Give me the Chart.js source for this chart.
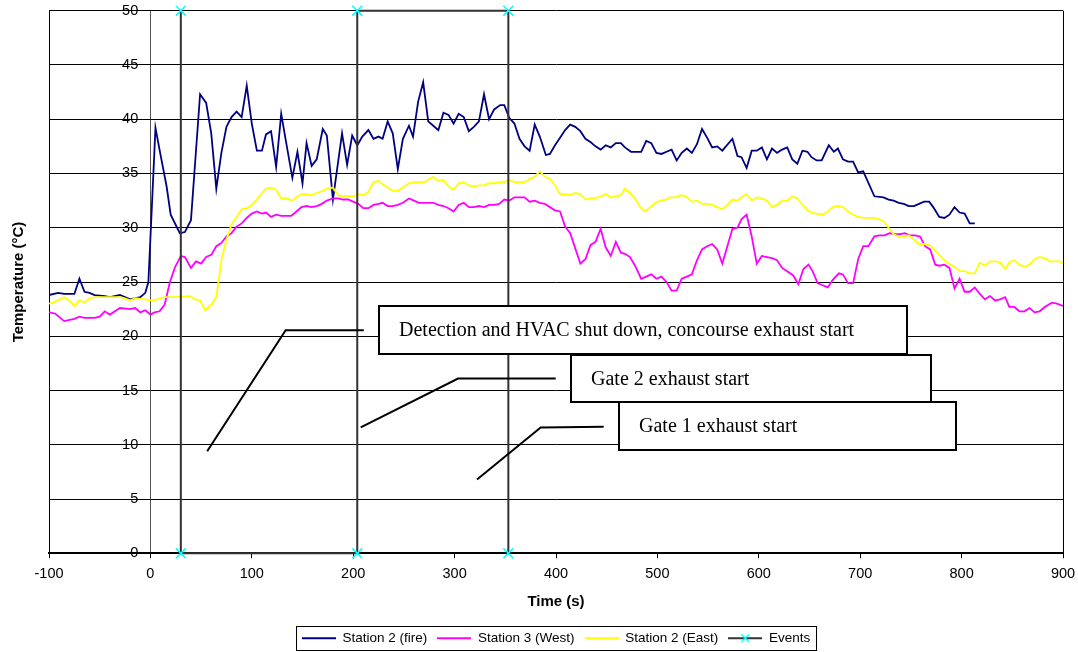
<!DOCTYPE html>
<html>
<head>
<meta charset="utf-8">
<title>Station temperatures</title>
<script src="https://cdn.jsdelivr.net/npm/chart.js@4.4.1/dist/chart.umd.min.js"></script>
<style>
  html, body { margin: 0; padding: 0; background: #fff; }
  canvas { display: block; }
</style>
</head>
<body>
<canvas id="tempChart" width="1078" height="652"></canvas>
<script>
// time (s) and temperature (degC) for each station
var fireTime = [-100,-91,-85,-75,-70,-65,-60,-55,-45,-40,
  -30,-20,-10,-5,-2,0,5,9,16,20,
  29,34,40,49,55,60,65,70,75,80,
  85,90,95,100,105,110,114,119,124,129,
  134,140,145,150,154,159,164,170,174,180,
  189,194,199,204,209,215,220,225,229,234,
  239,244,249,255,259,264,269,274,279,284,
  289,294,299,304,309,314,319,324,329,334,
  339,345,349,354,359,364,369,374,379,384,
  390,394,399,404,409,414,419,424,429,434,
  439,444,449,454,459,464,468,474,484,489,
  494,499,504,509,514,519,524,529,534,539,
  544,549,554,559,564,574,579,583,588,593,
  598,603,608,613,618,623,628,633,638,643,
  648,652,657,662,669,674,678,683,688,693,
  698,703,714,723,728,733,738,743,748,753,
  758,763,768,772,778,783,788,793,798,803,
  808,813];
var fireTemp = [23.8,24.0,23.9,23.9,25.3,24.1,24.0,23.8,23.7,23.6,
  23.8,23.4,23.6,24.0,25.0,29.0,39.2,37.2,33.8,31.2,
  29.5,29.6,30.7,42.3,41.5,38.7,33.6,36.9,39.3,40.2,
  40.7,40.2,43.1,39.6,37.1,37.1,38.6,38.9,35.6,40.5,
  37.8,34.6,37.0,34.1,37.8,35.7,36.3,39.1,38.5,32.6,
  38.7,35.8,38.5,37.6,38.4,39.0,38.2,38.4,38.2,39.8,
  38.7,35.4,38.2,39.4,38.4,41.6,43.4,39.8,39.4,39.0,
  40.6,40.4,39.6,40.5,40.2,38.9,39.3,39.8,42.3,40.0,
  40.9,41.3,41.3,40.1,39.6,38.2,37.5,37.1,39.5,38.4,
  36.7,36.8,37.6,38.3,39.0,39.5,39.3,38.9,38.2,37.9,
  37.5,37.2,37.6,37.4,37.8,37.8,37.4,37.0,37.0,38.0,
  37.8,36.9,36.8,37.0,37.2,36.2,36.9,37.3,36.9,37.7,
  39.1,38.3,37.4,37.5,37.1,38.2,36.6,36.5,35.5,37.1,
  37.1,37.4,36.3,37.3,36.9,37.2,37.4,36.3,35.9,37.1,
  37.0,36.5,36.2,36.2,37.6,37.0,37.3,36.3,36.1,36.1,
  35.1,35.2,32.9,32.8,32.6,32.5,32.3,32.2,32.0,32.0,
  32.2,32.4,32.4,31.9,31.0,30.9,31.2,31.9,31.4,31.3,
  30.4,30.4];

var westTime = [-100,-94,-85,-75,-70,-65,-55,-50,-45,-40,
  -30,-20,-15,-10,-5,0,4,9,14,19,
  24,30,34,40,45,50,55,60,65,70,
  75,80,85,90,95,100,105,110,114,119,
  124,129,139,144,149,154,159,164,169,174,
  180,185,190,195,200,205,210,215,220,225,
  229,234,239,244,249,255,260,265,270,275,
  279,284,289,294,299,304,309,314,319,324,
  329,334,339,344,349,354,359,364,369,374,
  379,384,389,394,399,404,409,414,419,424,
  429,434,439,444,449,454,459,464,468,473,
  478,484,489,494,499,504,509,514,519,524,
  529,534,539,544,549,554,559,564,569,574,
  579,583,588,593,598,603,608,613,618,623,
  628,634,639,644,649,653,658,663,668,673,
  679,683,688,693,698,703,708,714,719,724,
  729,734,739,744,749,754,759,764,769,774,
  778,783,788,793,798,803,808,813,818,823,
  828,833,838,843,847,852,857,862,867,872,
  877,882,889,894,900];
var westTemp = [22.2,22.1,21.4,21.6,21.8,21.7,21.7,21.8,22.3,22.0,
  22.6,22.5,22.6,22.2,22.4,22.0,22.2,22.3,22.9,24.9,
  26.3,27.4,27.3,26.3,26.9,26.7,27.3,27.5,28.3,28.6,
  29.2,29.5,30.1,30.4,30.9,31.3,31.5,31.3,31.4,31.0,
  31.2,31.1,31.1,31.5,31.9,32.0,31.9,32.0,32.2,32.5,
  32.7,32.7,32.6,32.6,32.4,32.2,31.8,31.8,32.1,32.2,
  32.3,32.0,32.0,32.1,32.3,32.7,32.5,32.3,32.3,32.3,
  32.3,32.1,32.0,31.8,31.5,32.1,32.3,31.9,31.9,32.0,
  31.9,32.1,32.1,32.2,32.6,32.5,32.8,32.8,32.8,32.4,
  32.5,32.3,32.2,31.9,31.6,31.5,30.1,29.5,28.1,26.7,
  27.1,28.4,28.7,29.9,28.2,27.4,28.7,27.7,27.6,27.3,
  26.5,25.3,25.5,25.7,25.3,25.5,25.0,24.2,24.2,25.3,
  25.5,25.7,27.0,28.0,28.3,28.5,28.0,26.7,28.3,29.9,
  30.0,30.8,31.2,29.2,26.7,27.4,27.3,27.2,27.0,26.3,
  26.0,25.6,24.8,26.2,26.6,26.0,24.9,24.7,24.5,25.2,
  25.8,25.7,24.9,24.9,27.1,28.3,28.3,29.2,29.3,29.3,
  29.5,29.4,29.4,29.5,29.3,29.3,29.2,28.3,28.0,26.6,
  26.5,26.6,26.3,24.4,25.3,24.1,24.1,24.5,23.9,23.4,
  23.7,23.3,23.4,23.6,22.7,22.7,22.3,22.3,22.6,22.2,
  22.3,22.7,23.1,23.0,22.8];

var eastTime = [-100,-96,-89,-85,-80,-75,-70,-65,-60,-55,
  -45,-40,-35,-30,-25,-20,-15,-5,0,4,
  9,14,24,39,44,49,54,60,65,70,
  75,80,85,90,95,100,105,110,114,119,
  124,129,134,140,145,150,154,159,164,170,
  174,180,185,190,195,200,205,210,215,220,
  225,229,234,239,244,249,255,260,265,270,
  275,279,284,289,294,299,304,309,314,319,
  324,329,334,339,344,349,354,359,364,369,
  374,379,384,389,394,399,404,409,414,419,
  424,429,434,439,444,449,454,459,464,468,
  473,478,483,488,493,498,503,508,513,518,
  523,528,534,539,544,549,554,559,564,569,
  574,579,583,588,593,598,603,608,613,618,
  623,628,633,638,643,648,652,657,663,668,
  673,678,683,688,693,698,703,708,713,718,
  723,728,733,738,743,748,753,758,763,768,
  772,777,782,787,793,798,803,808,813,818,
  823,828,833,838,843,847,852,857,862,867,
  872,877,882,887,892,897,900];
var eastTemp = [23.0,23.1,23.4,23.6,23.3,22.8,23.3,23.1,23.5,23.6,
  23.6,23.6,23.6,23.6,23.5,23.3,23.5,23.4,23.3,23.3,
  23.5,23.6,23.6,23.7,23.4,23.3,22.4,22.9,23.6,27.0,
  28.9,30.3,31.0,31.7,31.8,32.1,32.6,33.2,33.6,33.7,
  33.5,32.7,32.7,32.5,32.9,33.1,33.1,33.0,33.2,33.4,
  33.6,33.7,33.0,32.9,32.9,32.9,33.1,33.0,33.3,34.2,
  34.3,34.0,33.7,33.4,33.4,33.7,34.1,34.2,34.2,34.2,
  34.5,34.7,34.3,34.4,33.8,33.5,34.1,34.2,33.9,33.8,
  33.9,33.9,34.1,34.1,34.2,34.2,34.4,34.2,34.2,34.2,
  34.5,34.7,35.2,34.7,34.5,33.9,33.1,33.1,33.0,33.2,
  33.1,32.6,32.7,32.7,32.9,33.1,32.8,32.9,33.0,33.6,
  33.2,32.7,31.9,31.5,31.9,32.3,32.5,32.6,32.8,32.8,
  33.0,32.9,32.4,32.5,32.2,32.2,32.1,31.9,31.7,32.1,
  32.6,32.5,32.8,33.1,32.5,32.8,32.7,32.5,31.9,32.1,
  32.5,32.5,32.9,32.7,32.1,31.6,31.4,31.3,31.2,31.5,
  31.9,32.0,31.9,31.5,31.2,31.0,30.9,30.9,30.9,30.8,
  30.6,30.0,29.4,29.2,29.2,29.3,28.9,28.5,28.5,28.4,
  28.1,27.6,27.1,26.7,26.4,26.0,26.0,25.8,25.8,26.8,
  26.5,26.9,26.9,26.8,26.2,26.8,27.0,26.6,26.4,26.6,
  27.1,27.3,27.2,26.9,26.9,26.9,26.7];

// event markers: drawn as a stepped line between the axis limits
var eventTime = [30, 30, 204, 204, 353, 353];
var eventLevel = [50, 0, 0, 50, 50, 0];

var seriesNames = ['Station 2 (fire)', 'Station 3 (West)', 'Station 2 (East)', 'Events'];
var tempTicks = { min: 0, max: 50, step: 5 };
var timeTicks = { min: -100, max: 900, step: 100 };

// callout boxes, in axis units
var notes = [
  { text: 'Detection and HVAC shut down, concourse exhaust start',
    box: [225.4, 746.6, 22.8, 18.4], leader: [[56, 9.4], [133.4, 20.55], [210.4, 20.55]] },
  { text: 'Gate 2 exhaust start',
    box: [415.2, 770.2, 18.3, 13.95], leader: [[207.4, 11.6], [303.4, 16.1], [399.7, 16.1]] },
  { text: 'Gate 1 exhaust start',
    box: [462.1, 794.2, 13.95, 9.5], leader: [[322.1, 6.8], [384.9, 11.6], [447, 11.65]] }
];

function pairs(xs, ys) {
  var out = [];
  for (var i = 0; i < Math.min(xs.length, ys.length); i++) out.push({ x: xs[i], y: ys[i] });
  return out;
}

// small line samples for the legend
function legendSample(color, marker) {
  var c = document.createElement('canvas');
  c.width = 34; c.height = 12;
  var g = c.getContext('2d');
  g.strokeStyle = color;
  g.lineWidth = 2;
  g.beginPath(); g.moveTo(0, 6); g.lineTo(34, 6); g.stroke();
  if (marker) {
    g.strokeStyle = marker;
    g.lineWidth = 1.5;
    g.beginPath();
    g.moveTo(13, 2); g.lineTo(21, 10);
    g.moveTo(21, 2); g.lineTo(13, 10);
    g.stroke();
  }
  return c;
}
var samples = [
  legendSample('#000080'),
  legendSample('#FF00FF'),
  legendSample('#FFFF00'),
  legendSample('#333333', '#00FFFF')
];

var notePlugin = {
  id: 'eventNotes',
  afterDatasetsDraw: function (chart) {
    var ctx = chart.ctx, x = chart.scales.x, y = chart.scales.y;
    ctx.save();
    ctx.strokeStyle = '#000';
    ctx.lineWidth = 2;
    notes.forEach(function (n) {
      ctx.beginPath();
      n.leader.forEach(function (p, i) {
        var px = x.getPixelForValue(p[0]), py = y.getPixelForValue(p[1]);
        if (i) ctx.lineTo(px, py); else ctx.moveTo(px, py);
      });
      ctx.stroke();
    });
    notes.forEach(function (n) {
      var l = Math.round(x.getPixelForValue(n.box[0])), r = Math.round(x.getPixelForValue(n.box[1]));
      var t = Math.round(y.getPixelForValue(n.box[2])), b = Math.round(y.getPixelForValue(n.box[3]));
      ctx.fillStyle = '#fff';
      ctx.fillRect(l, t, r - l, b - t);
      ctx.strokeRect(l, t, r - l, b - t);
      ctx.fillStyle = '#000';
      ctx.font = '20px "Liberation Serif", "Times New Roman", serif';
      ctx.textBaseline = 'alphabetic';
      ctx.textAlign = 'left';
      ctx.fillText(n.text, l + 20, t + 30);
    });
    ctx.restore();
  }
};

// thin frame around the legend entries
var legendFrame = {
  id: 'legendFrame',
  afterDraw: function (chart) {
    var hb = chart.legend && chart.legend.legendHitBoxes;
    if (!hb || !hb.length) return;
    var first = hb[0], last = hb[hb.length - 1];
    var ctx = chart.ctx;
    ctx.save();
    ctx.strokeStyle = '#000';
    ctx.lineWidth = 1;
    var l = Math.round(first.left - 6) + 0.5;
    var t = Math.round(first.top - 6) + 0.5;
    var r = Math.round(last.left + last.width + 6) + 0.5;
    var b = Math.round(first.top + first.height + 5) + 0.5;
    ctx.strokeRect(l, t, r - l, b - t);
    ctx.restore();
  }
};

function noVerticalPad(s) { s.paddingTop = 0; s.paddingBottom = 0; }

Chart.defaults.font.family = '"Liberation Sans", Arial, sans-serif';
Chart.defaults.color = '#000';

var lineColors = ['#000080', '#FF00FF', '#FFFF00'];

new Chart(document.getElementById('tempChart'), {
  type: 'line',
  data: {
    datasets: [
      { label: seriesNames[0], data: pairs(fireTime, fireTemp), borderColor: lineColors[0],
        borderWidth: 1.8, pointRadius: 0, order: 3 },
      { label: seriesNames[1], data: pairs(westTime, westTemp), borderColor: lineColors[1],
        borderWidth: 1.8, pointRadius: 0, order: 2 },
      { label: seriesNames[2], data: pairs(eastTime, eastTemp), borderColor: lineColors[2],
        borderWidth: 1.8, pointRadius: 0, order: 1 },
      { label: seriesNames[3], data: pairs(eventTime, eventLevel), borderColor: '#333333',
        borderWidth: 2, pointStyle: 'crossRot', pointRadius: 7, pointBorderColor: '#00FFFF',
        pointBorderWidth: 1.5, clip: false, order: 0 }
    ]
  },
  options: {
    responsive: false,
    animation: false,
    devicePixelRatio: 1,
    layout: { padding: { top: 10.7, right: 15, bottom: -3, left: 0 } },
    elements: { line: { tension: 0 } },
    scales: {
      x: {
        type: 'linear',
        min: timeTicks.min, max: timeTicks.max,
        ticks: { stepSize: timeTicks.step, padding: 7, maxRotation: 0, autoSkip: false,
                 font: { size: 14.5 }, color: '#000' },
        grid: {
          color: function (c) {
            if (!c.tick) return 'rgba(0,0,0,0)';
            if (c.tick.value === 0) return '#555';
            if (c.tick.value === timeTicks.min || c.tick.value === timeTicks.max) return '#000';
            return 'rgba(0,0,0,0)';
          },
          tickColor: '#000', tickLength: 5, lineWidth: 1
        },
        border: { display: true, color: '#000', width: 2 },
        title: { display: true, text: 'Time (s)', font: { size: 15, weight: 'bold' },
                 padding: { top: 4, bottom: 11 } },
        afterFit: function (s) { s.height = 68.2; s.paddingLeft = 0; s.paddingRight = 0; }
      },
      y: {
        min: tempTicks.min, max: tempTicks.max,
        ticks: { display: false, stepSize: tempTicks.step },
        grid: { color: '#000', lineWidth: 1, drawTicks: false },
        border: { display: true, color: '#000', width: 1 },
        title: { display: true, text: 'Temperature (°C)', font: { size: 15, weight: 'bold' },
                 padding: { top: 10 } },
        afterFit: function (s) { s.width = 49; noVerticalPad(s); }
      },
      // value labels sit just left of the time = 0 line
      yLabels: {
        axis: 'y',
        type: 'linear',
        position: { x: -12 },
        min: tempTicks.min, max: tempTicks.max,
        ticks: { stepSize: tempTicks.step, padding: 0, font: { size: 14.5 }, color: '#000' },
        grid: { display: false, drawTicks: false },
        border: { display: false },
        afterFit: noVerticalPad
      }
    },
    plugins: {
      tooltip: { enabled: false },
      legend: {
        position: 'bottom',
        fullSize: false,
        labels: {
          usePointStyle: true,
          pointStyleWidth: 34,
          padding: 10,
          font: { size: 13.5 },
          color: '#000',
          generateLabels: function (chart) {
            return chart.data.datasets.map(function (ds, i) {
              return { text: ds.label, pointStyle: samples[i], datasetIndex: i, hidden: false,
                       lineWidth: 0, strokeStyle: 'rgba(0,0,0,0)', fillStyle: 'rgba(0,0,0,0)',
                       fontColor: '#000' };
            });
          }
        }
      }
    }
  },
  plugins: [notePlugin, legendFrame]
});
</script>
</body>
</html>
